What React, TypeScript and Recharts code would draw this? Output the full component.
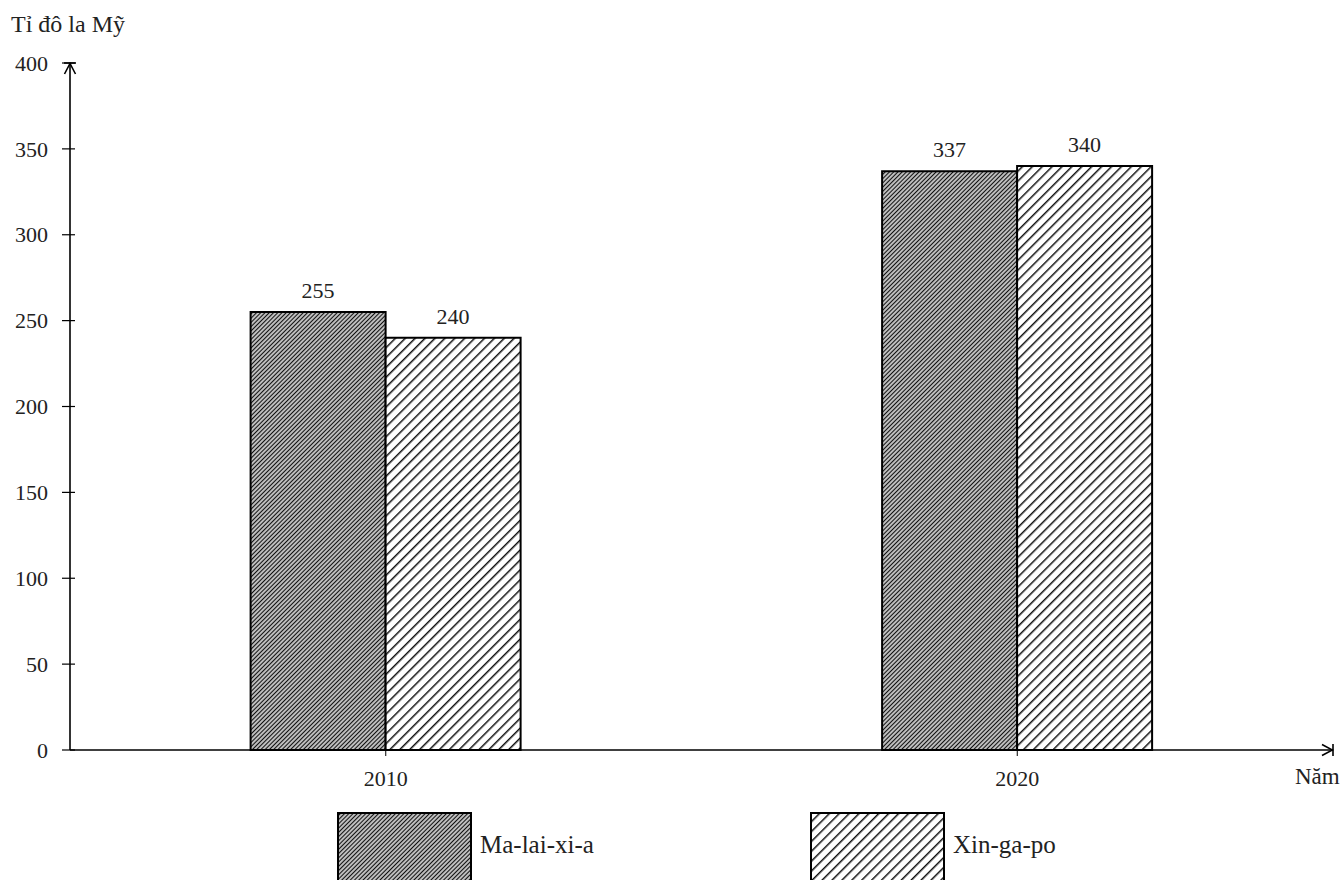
import { BarChart, Bar, XAxis, YAxis, LabelList } from 'recharts';

const years = ['2010', '2020'];
const malaysia = [255, 337];
const singapore = [240, 340];
const seriesNames = ['Ma-lai-xi-a', 'Xin-ga-po'];
const yTicks = [0, 50, 100, 150, 200, 250, 300, 350, 400];

const data = years.map((year, i) => ({
  year,
  malaysia: malaysia[i],
  singapore: singapore[i],
}));

const font = '"Liberation Serif", "DejaVu Serif", serif';
const textColor = '#222';
const numSize = 22;

const Patterns = () => (
  <defs>
    <pattern id="hatchDense" patternUnits="userSpaceOnUse" width="3" height="3" patternTransform="rotate(45)">
      <rect width="3" height="3" fill="#bdbdbd" />
      <line x1="0" y1="0" x2="0" y2="3" stroke="#111" strokeWidth="2" />
    </pattern>
    <pattern id="hatchWide" patternUnits="userSpaceOnUse" width="7" height="7" patternTransform="rotate(45)">
      <rect width="7" height="7" fill="#fff" />
      <line x1="0" y1="0" x2="0" y2="7" stroke="#111" strokeWidth="3" />
    </pattern>
    <marker id="axisArrow" viewBox="0 0 14 14" refX="13" refY="7" markerWidth="14" markerHeight="14"
      markerUnits="userSpaceOnUse" orient="auto-start-reverse">
      <path d="M2,1.5 L12.5,7 L2,12.5" fill="none" stroke="#000" strokeWidth="1.6" />
      <line x1="13" y1="1" x2="13" y2="13" stroke="#000" strokeWidth="1.6" />
    </marker>
  </defs>
);

// y tick: label plus a short dash that crosses the axis line
const YTick = (props: any) => {
  const { x, y, payload } = props;
  return (
    <g>
      <line x1={x + 14} y1={y} x2={x + 27} y2={y} stroke="#000" strokeWidth={1.2} />
      <text x={x} y={y} dy="0.35em" textAnchor="end" fill={textColor} fontFamily={font} fontSize={numSize}>
        {payload.value}
      </text>
    </g>
  );
};

const LegendBox = ({ x, fill, label }: { x: number; fill: string; label: string }) => (
  <div style={{ position: 'absolute', left: x, top: 812, display: 'flex', alignItems: 'center' }}>
    <svg width={136} height={70} style={{ display: 'block' }}>
      <rect x={1} y={1} width={133} height={70} fill={fill} stroke="#000" strokeWidth={2} />
    </svg>
    <span style={{ fontFamily: font, fontSize: 25, color: textColor, marginLeft: 7, marginTop: -4 }}>{label}</span>
  </div>
);

const App = () => {
  return (
    <div style={{ position: 'absolute', left: 0, top: 0, width: 1343, height: 880, background: '#fff', overflow: 'hidden' }}>
      <div style={{ position: 'absolute', left: 11, top: 12, fontFamily: font, fontSize: 24, color: textColor, lineHeight: 1 }}>
        Tỉ đô la Mỹ
      </div>
      <BarChart
        width={1343}
        height={880}
        data={data}
        margin={{ top: 63, right: 10, bottom: 100, left: 0 }}
        barCategoryGap="28.6%"
        barGap={0}
      >
        <Patterns />
        <XAxis
          dataKey="year"
          height={30}
          axisLine={{ stroke: '#000', strokeWidth: 1.6, markerEnd: 'url(#axisArrow)' }}
          tickLine={{ stroke: '#000' }}
          tickSize={6}
          tickMargin={14}
          tick={{ fill: textColor, fontFamily: font, fontSize: numSize }}
        />
        <YAxis
          width={70}
          domain={[0, 400]}
          ticks={yTicks}
          interval={0}
          axisLine={{ stroke: '#000', strokeWidth: 1.6, markerStart: 'url(#axisArrow)' }}
          tickLine={false}
          tickSize={8}
          tickMargin={14}
          tick={<YTick />}
        />
        <Bar dataKey="malaysia" name={seriesNames[0]} fill="url(#hatchDense)" stroke="#000" strokeWidth={2} isAnimationActive={false}>
          <LabelList dataKey="malaysia" position="top" offset={14} fill={textColor} fontFamily={font} fontSize={numSize} />
        </Bar>
        <Bar dataKey="singapore" name={seriesNames[1]} fill="url(#hatchWide)" stroke="#000" strokeWidth={2} isAnimationActive={false}>
          <LabelList dataKey="singapore" position="top" offset={14} fill={textColor} fontFamily={font} fontSize={numSize} />
        </Bar>
      </BarChart>
      <div style={{ position: 'absolute', left: 1295, top: 765, fontFamily: font, fontSize: 23, color: textColor, lineHeight: 1 }}>
        Năm
      </div>
      <LegendBox x={337} fill="url(#hatchDense)" label={seriesNames[0]} />
      <LegendBox x={810} fill="url(#hatchWide)" label={seriesNames[1]} />
    </div>
  );
};

export default App;
